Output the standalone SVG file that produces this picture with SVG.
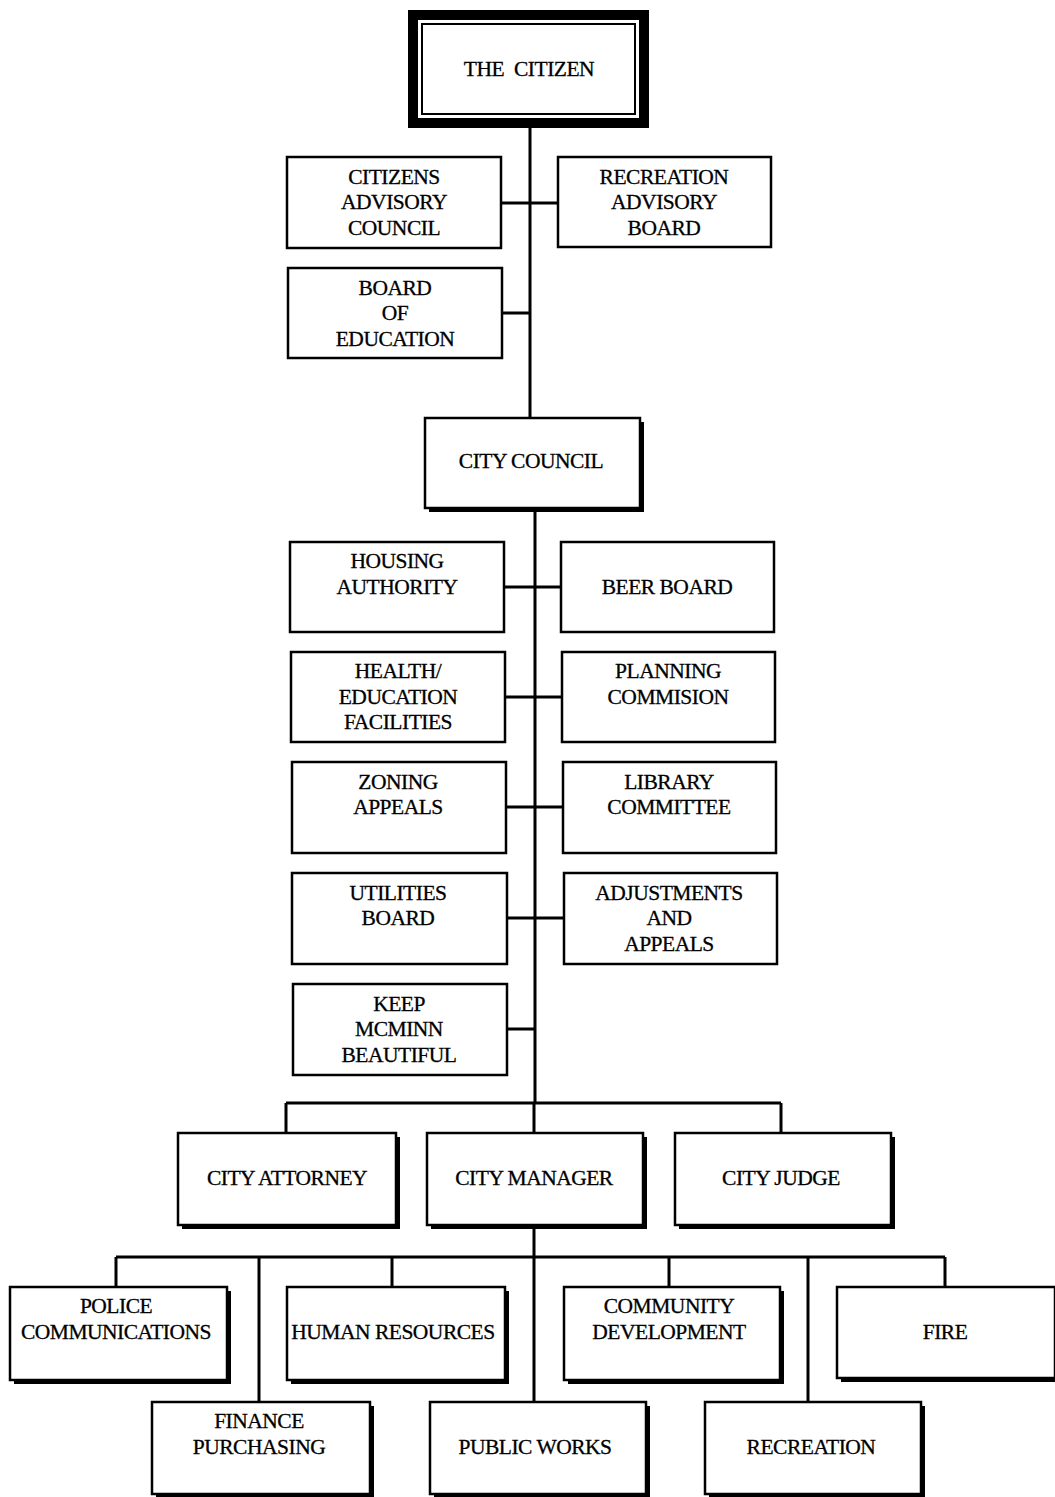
<svg xmlns="http://www.w3.org/2000/svg" width="1055" height="1497" viewBox="0 0 1055 1497">
<style>
.b{fill:#fff;stroke:#000;stroke-width:2.5}
.sh{fill:#000}
.c{fill:none;stroke:#000;stroke-width:3}
text{font-family:"Liberation Serif","Times New Roman",serif;font-size:21.5px;text-anchor:middle;fill:#000;stroke:#000;stroke-width:0.3;letter-spacing:-0.5px}
</style>
<rect width="1055" height="1497" fill="#fff"/>
<g id="connectors">
<path class="c" d="M530 128V420M501 203H558M502 313H530M535 510V1103M504 587H561M505 697H562M506 807H563M507 918H564M507 1029H535M286 1103H781M286 1103V1133M534 1103V1133M781 1103V1133M534 1225V1402M116 1257H945M116 1257V1288M259 1257V1402M392 1257V1288M669 1257V1288M808 1257V1402M945 1257V1288"/>
</g>
<g id="the-citizen">
<rect x="413" y="15" width="231" height="108" fill="#fff" stroke="#000" stroke-width="10"/>
<rect x="422" y="24" width="213" height="90" fill="none" stroke="#000" stroke-width="2"/>
<text x="529" y="76" word-spacing="5">THE CITIZEN</text>
</g>
<g id="citizens-advisory-council">
<rect class="b" x="287" y="157" width="214" height="91"/>
<text x="394" y="184">CITIZENS</text><text x="394" y="209">ADVISORY</text><text x="394" y="235">COUNCIL</text>
</g>
<g id="recreation-advisory-board">
<rect class="b" x="558" y="157" width="213" height="90"/>
<text x="664" y="184">RECREATION</text><text x="664" y="209">ADVISORY</text><text x="664" y="235">BOARD</text>
</g>
<g id="board-of-education">
<rect class="b" x="288" y="268" width="214" height="90"/>
<text x="395" y="295">BOARD</text><text x="395" y="320">OF</text><text x="395" y="346">EDUCATION</text>
</g>
<g id="city-council">
<rect class="sh" x="429" y="422" width="215" height="90"/>
<rect class="b" x="425" y="418" width="215" height="90"/>
<text x="531" y="468">CITY COUNCIL</text>
</g>
<g id="housing-authority">
<rect class="b" x="290" y="542" width="214" height="90"/>
<text x="397" y="568">HOUSING</text><text x="397" y="594">AUTHORITY</text>
</g>
<g id="beer-board">
<rect class="b" x="561" y="542" width="213" height="90"/>
<text x="667" y="594">BEER BOARD</text>
</g>
<g id="health-education-facilities">
<rect class="b" x="291" y="652" width="214" height="90"/>
<text x="398" y="678">HEALTH/</text><text x="398" y="704">EDUCATION</text><text x="398" y="729">FACILITIES</text>
</g>
<g id="planning-commision">
<rect class="b" x="562" y="652" width="213" height="90"/>
<text x="668" y="678">PLANNING</text><text x="668" y="704">COMMISION</text>
</g>
<g id="zoning-appeals">
<rect class="b" x="292" y="762" width="214" height="91"/>
<text x="398" y="789">ZONING</text><text x="398" y="814">APPEALS</text>
</g>
<g id="library-committee">
<rect class="b" x="563" y="762" width="213" height="91"/>
<text x="669" y="789">LIBRARY</text><text x="669" y="814">COMMITTEE</text>
</g>
<g id="utilities-board">
<rect class="b" x="292" y="873" width="215" height="91"/>
<text x="398" y="900">UTILITIES</text><text x="398" y="925">BOARD</text>
</g>
<g id="adjustments-and-appeals">
<rect class="b" x="564" y="873" width="213" height="91"/>
<text x="669" y="900">ADJUSTMENTS</text><text x="669" y="925">AND</text><text x="669" y="951">APPEALS</text>
</g>
<g id="keep-mcminn-beautiful">
<rect class="b" x="293" y="984" width="214" height="91"/>
<text x="399" y="1011">KEEP</text><text x="399" y="1036">MCMINN</text><text x="399" y="1062">BEAUTIFUL</text>
</g>
<g id="city-attorney">
<rect class="sh" x="182" y="1137" width="218" height="92"/>
<rect class="b" x="178" y="1133" width="218" height="92"/>
<text x="287" y="1185">CITY ATTORNEY</text>
</g>
<g id="city-manager">
<rect class="sh" x="431" y="1137" width="216" height="92"/>
<rect class="b" x="427" y="1133" width="216" height="92"/>
<text x="534" y="1185">CITY MANAGER</text>
</g>
<g id="city-judge">
<rect class="sh" x="679" y="1137" width="216" height="92"/>
<rect class="b" x="675" y="1133" width="216" height="92"/>
<text x="781" y="1185">CITY JUDGE</text>
</g>
<g id="police-communications">
<rect class="sh" x="14" y="1291" width="217" height="93"/>
<rect class="b" x="10" y="1287" width="217" height="93"/>
<text x="116" y="1313">POLICE</text><text x="116" y="1339">COMMUNICATIONS</text>
</g>
<g id="human-resources">
<rect class="sh" x="291" y="1291" width="218" height="93"/>
<rect class="b" x="287" y="1287" width="218" height="93"/>
<text x="393" y="1339">HUMAN RESOURCES</text>
</g>
<g id="community-development">
<rect class="sh" x="568" y="1291" width="216" height="93"/>
<rect class="b" x="564" y="1287" width="216" height="93"/>
<text x="669" y="1313">COMMUNITY</text><text x="669" y="1339">DEVELOPMENT</text>
</g>
<g id="fire">
<rect class="sh" x="841" y="1291" width="218" height="91"/>
<rect class="b" x="837" y="1287" width="218" height="91"/>
<text x="945" y="1339">FIRE</text>
</g>
<g id="finance-purchasing">
<rect class="sh" x="156" y="1406" width="218" height="93"/>
<rect class="b" x="152" y="1402" width="218" height="92"/>
<text x="259" y="1428">FINANCE</text><text x="259" y="1454">PURCHASING</text>
</g>
<g id="public-works">
<rect class="sh" x="434" y="1406" width="216" height="93"/>
<rect class="b" x="430" y="1402" width="216" height="92"/>
<text x="535" y="1454">PUBLIC WORKS</text>
</g>
<g id="recreation">
<rect class="sh" x="709" y="1406" width="216" height="93"/>
<rect class="b" x="705" y="1402" width="216" height="92"/>
<text x="811" y="1454">RECREATION</text>
</g>
</svg>
